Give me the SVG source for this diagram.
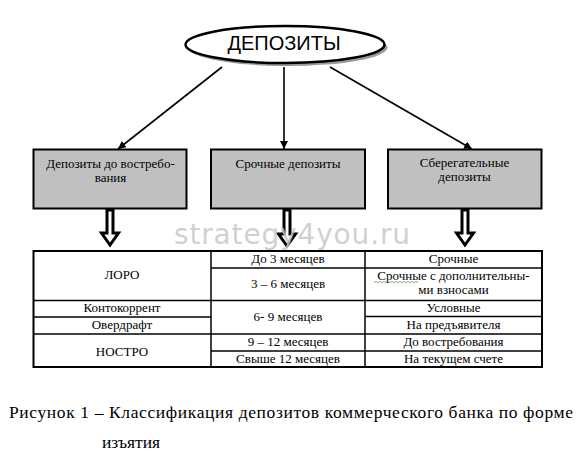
<svg xmlns="http://www.w3.org/2000/svg" width="584" height="469" viewBox="0 0 584 469">
<style>
.t{font-family:"Liberation Serif","Times New Roman","DejaVu Serif",serif;font-size:13px;fill:#000;text-anchor:middle}
.box{fill:#c0c0c0;stroke:#000;stroke-width:2}
.con{stroke:#000;stroke-width:1.6;fill:none;marker-end:url(#ah)}
.ha{fill:#fff;stroke:#000;stroke-width:3;stroke-linejoin:miter}
.tl{stroke:#000;stroke-width:1.5;fill:none}
</style>
<defs>
<marker id="ah" viewBox="0 0 10 10" refX="10" refY="5" markerWidth="5" markerHeight="5" orient="auto" markerUnits="strokeWidth">
<path d="M0,0 L10,5 L0,10 Z" fill="#000"/>
</marker>
</defs>
<rect width="584" height="469" fill="#fff"/>

<g id="root">
<ellipse cx="288" cy="47.5" rx="99.5" ry="18.5" fill="#9a9a9a"/>
<ellipse cx="285" cy="44.5" rx="99.5" ry="18.5" fill="#fff" stroke="#000" stroke-width="2.5"/>
<text x="284" y="50" style="font-family:'Liberation Sans',Arial,sans-serif;font-size:20px;text-anchor:middle">ДЕПОЗИТЫ</text>
</g>

<g id="connectors">
<line class="con" x1="222" y1="67" x2="118" y2="149"/>
<line class="con" x1="284" y1="67" x2="284" y2="149"/>
<line class="con" x1="330" y1="67" x2="472" y2="149"/>
<path class="ha" d="M107,210 L107,233 L101.5,233 L110,245 L118.5,233 L113,233 L113,210 Z"/>
<path class="ha" d="M284,210 L284,234 L278.5,234 L287,246 L295.5,234 L290,234 L290,210 Z"/>
<path class="ha" d="M462,210 L462,233 L456.5,233 L465,245 L473.5,233 L468,233 L468,210 Z"/>
</g>

<g id="n1">
<rect class="box" x="33.5" y="149.5" width="153" height="59"/>
<text class="t" x="110.5" y="168">Депозиты до востребо-</text>
<text class="t" x="110.5" y="182">вания</text>
</g>
<g id="n2">
<rect class="box" x="211" y="149.5" width="154" height="59"/>
<text class="t" x="288" y="168">Срочные депозиты</text>
</g>
<g id="n3">
<rect class="box" x="388" y="149.5" width="153.5" height="59"/>
<text class="t" x="464.5" y="167">Сберегательные</text>
<text class="t" x="464.5" y="181">депозиты</text>
</g>

<text x="292" y="244" style="font-family:'DejaVu Sans',Verdana,sans-serif;font-size:28px;fill:#c8c8c8;fill-opacity:0.85;text-anchor:middle" textLength="236">strategy4you.ru</text>

<g id="table">
<rect x="33.5" y="251" width="508.5" height="116" fill="none" stroke="#000" stroke-width="2"/>
<line class="tl" x1="211" y1="251" x2="211" y2="367"/>
<line class="tl" x1="365" y1="251" x2="365" y2="367"/>
<line class="tl" x1="33.5" y1="300.5" x2="211" y2="300.5"/>
<line class="tl" x1="33.5" y1="317" x2="211" y2="317"/>
<line class="tl" x1="33.5" y1="334" x2="211" y2="334"/>
<line class="tl" x1="211" y1="268" x2="542" y2="268"/>
<line class="tl" x1="211" y1="300.5" x2="542" y2="300.5"/>
<line class="tl" x1="211" y1="334" x2="542" y2="334"/>
<line class="tl" x1="211" y1="351" x2="542" y2="351"/>
<line class="tl" x1="365" y1="316.5" x2="542" y2="316.5"/>

<text class="t" x="122" y="279">ЛОРО</text>
<text class="t" x="122" y="312">Контокоррент</text>
<text class="t" x="122" y="329">Овердрафт</text>
<text class="t" x="122" y="356">НОСТРО</text>

<text class="t" x="288" y="263">До 3 месяцев</text>
<text class="t" x="288" y="288">3 – 6 месяцев</text>
<text class="t" x="288" y="321">6- 9 месяцев</text>
<text class="t" x="288" y="346">9 – 12 месяцев</text>
<text class="t" x="288" y="363">Свыше 12 месяцев</text>

<text class="t" x="453.5" y="263">Срочные</text>
<text class="t" x="453.5" y="280">Срочные с дополнительны-</text>
<path d="M374,282.5 l2,-1 l2,1 l2,-1 l2,1 l2,-1 l2,1 l2,-1 l2,1 l2,-1 l2,1 l2,-1 l2,1 l2,-1 l2,1 l2,-1 l2,1 l2,-1 l2,1 l2,-1 l2,1 l2,-1 l2,1" fill="none" stroke="#5aa05a" stroke-width="0.8"/>
<text class="t" x="453.5" y="294">ми взносами</text>
<text class="t" x="453.5" y="312">Условные</text>
<text class="t" x="453.5" y="329">На предъявителя</text>
<text class="t" x="453.5" y="346">До востребования</text>
<text class="t" x="453.5" y="363">На текущем счете</text>
</g>

<g id="caption" style="font-family:'Liberation Serif','Times New Roman','DejaVu Serif',serif;font-size:17.5px;fill:#000">
<text x="9" y="418" textLength="564" lengthAdjust="spacing">Рисунок 1 – Классификация  депозитов коммерческого банка по форме</text>
<text x="102" y="448">изъятия</text>
</g>
</svg>
